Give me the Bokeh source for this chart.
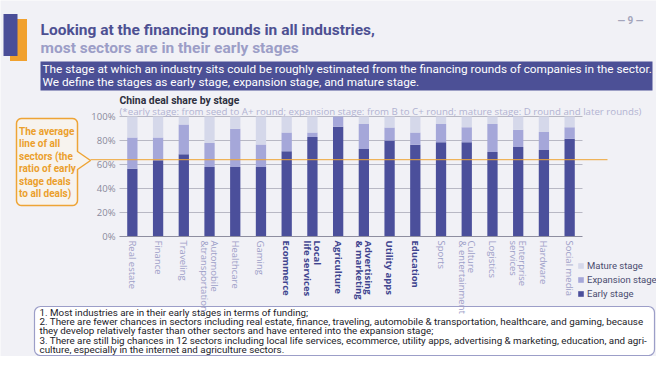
import math
from bokeh.plotting import figure
from bokeh.models import (Range1d, Label, LabelSet, ColumnDataSource, BoxAnnotation,
                          Legend, LegendItem)
from bokeh.embed import file_html
from bokeh.resources import INLINE
from bokeh.core.properties import value

# ---------------- data ----------------
sectors = ["Real estate", "Finance", "Traveling", "Automobile & transportation", "Healthcare",
           "Gaming", "Ecommerce", "Local life services", "Agriculture", "Advertising & marketing",
           "Utility apps", "Education", "Sports", "Culture & entertainment", "Logistics",
           "Enterprise services", "Hardware", "Social media"]
tick_labels = ["Real estate", "Finance", "Traveling", "Automobile\n&transportation", "Healthcare",
               "Gaming", "Ecommerce", "Local\nlife services", "Agriculture", "Advertising\n& marketing",
               "Utility apps", "Education", "Sports", "Culture\n& entertainment", "Logistics",
               "Enterprise\nservices", "Hardware", "Social media"]
highlighted = ["Ecommerce", "Local life services", "Agriculture", "Advertising & marketing",
               "Utility apps", "Education"]
early = [56.5, 63.5, 68.5, 58.0, 58.0, 58.0, 71.0, 83.0, 91.5, 73.0, 80.0, 76.5, 78.5, 78.5,
         70.5, 74.5, 72.0, 81.5]
expansion = [26.0, 19.0, 24.8, 20.0, 31.7, 18.7, 15.7, 3.7, 8.5, 20.7, 10.8, 10.2, 15.2, 12.5,
             23.2, 14.5, 15.0, 9.5]
mature = [17.5, 17.5, 6.7, 22.0, 10.3, 23.3, 13.3, 13.3, 0.0, 6.3, 9.2, 13.3, 6.3, 9.0, 6.3,
          11.0, 13.0, 9.0]
stage_names = ["Early stage", "Expansion stage", "Mature stage"]
average_early = 64
y_ticks = [0, 20, 40, 60, 80, 100]
y_tick_labels = ["0%", "20%", "40%", "60%", "80%", "100%"]

# ---------------- style ----------------
BG = "#f1f1f6"
NAVY = "#4b4f9b"
EXP = "#a5a7d9"
MAT = "#d5d8ea"
ORANGE = "#eea436"
ROB = "Roboto"
SANS = "Open Sans"

W, H = 656, 356
PL, PR, PT, PB = 0, W, 0, H               # canvas in picture pixels
FL, FR, FT, FB = 119, 582, 116, 236       # chart area in picture pixels
n = len(sectors)
sx = n / (FR - FL)                 # slots per pixel
sy = 100 / (FB - FT)               # percent per pixel

p = figure(width=W, height=H, output_backend="svg", toolbar_location=None,
           x_range=Range1d(PL, PR), y_range=Range1d(PB, PT),
           x_axis_location=None, y_axis_location=None,
           min_border=0, min_border_left=0, min_border_right=0,
           min_border_top=0, min_border_bottom=0)
p.extra_x_ranges = {"slot": Range1d((PL - FL) * sx, (PR - FL) * sx)}
p.extra_y_ranges = {"pct": Range1d((FB - PB) * sy, (FB - PT) * sy)}
p.background_fill_color = BG
p.border_fill_color = BG
p.outline_line_color = None
p.grid.visible = False

pos = [i + 0.5 for i in range(n)]

# grid lines
p.segment(x0=0, x1=n, y0=y_ticks[1:], y1=y_ticks[1:], x_range_name="slot",
          y_range_name="pct", line_color="#b8b8c4", line_width=1)

src = ColumnDataSource(dict(x=pos, sector=sectors, early=early, expansion=expansion, mature=mature))
rs = p.vbar_stack(["early", "expansion", "mature"], x="x", width=0.4,
                  color=[NAVY, EXP, MAT], line_color=None, source=src,
                  x_range_name="slot", y_range_name="pct")

# baseline
p.segment(x0=0, x1=n, y0=0, y1=0, x_range_name="slot", y_range_name="pct",
          line_color="#8e8ea0", line_width=1.2)

# average line
p.segment(x0=90, x1=607, y0=average_early, y1=average_early, y_range_name="pct",
          line_color=ORANGE, line_width=1)

# y tick labels
p.add_layout(LabelSet(x=115, y="y", text="t", y_range_name="pct",
                      source=ColumnDataSource(dict(y=y_ticks, t=y_tick_labels)),
                      text_align="right", text_baseline="middle", text_font=value(SANS),
                      text_font_size=value("9.5px"), text_color="#8a8a9c"))

# x tick labels (coloured individually)
lab_src = ColumnDataSource(dict(
    x=pos, text=tick_labels,
    color=["#40448f" if s in highlighted else "#9ea0c8" for s in sectors],
    style=["bold" if s in highlighted else "normal" for s in sectors]))
p.add_layout(LabelSet(x="x", y=240, x_range_name="slot", text="text", source=lab_src,
                      angle=-math.pi / 2, text_align="left", text_baseline="middle",
                      text_color="color", text_font_style="style", text_font=value(SANS),
                      text_font_size=value("9.5px"), text_line_height=0.72))

# legend
legend = Legend(items=[LegendItem(label=stage_names[2], renderers=[rs[2]]),
                       LegendItem(label=stage_names[1], renderers=[rs[1]]),
                       LegendItem(label=stage_names[0], renderers=[rs[0]])],
                location=(577 - PL, PB - 300.5), glyph_width=7, glyph_height=7, label_height=14,
                spacing=0, padding=0, margin=0, label_standoff=3,
                label_text_font=ROB, label_text_font_size="9.5px", label_text_color="#4a4c70",
                background_fill_alpha=0, border_line_color=None)
p.add_layout(legend)

# helper for rounded outlines in picture pixels
def rounded(l, t, r, b, rad, notch=None, k=5):
    xs, ys = [], []
    def arc(cx, cy, a0, a1):
        for i in range(k + 1):
            a = math.radians(a0 + (a1 - a0) * i / k)
            xs.append(cx + rad * math.cos(a)); ys.append(cy + rad * math.sin(a))
    arc(r - rad, t + rad, -90, 0)
    if notch:
        y0, tipx, tipy, y1 = notch
        xs.extend([r, tipx, r]); ys.extend([y0, tipy, y1])
    arc(r - rad, b - rad, 0, 90)
    arc(l + rad, b - rad, 90, 180)
    arc(l + rad, t + rad, 180, 270)
    return xs, ys

def box(l, t, r, b, **kw):
    p.add_layout(BoxAnnotation(left=l, right=r, top=t, bottom=b, level="underlay",
                               fill_alpha=1, line_alpha=1, **kw))

def text(x, y, s, size, color, font=ROB, style="normal", lh=1.2, align="left"):
    p.add_layout(Label(x=x, y=y, text=s, text_font=font, text_font_size=size,
                       text_color=color, text_font_style=style, text_align=align,
                       text_baseline="middle", text_line_height=lh))

# header
box(9.5, 18.5, 26.5, 60.5, fill_color="#f1a12e", line_color=None)
box(3, 13.5, 17, 55.5, fill_color="#4a4e98", line_color=None)
text(40, 29, "Looking at the financing rounds in all industries,", "15.5px", "#4d5092",
     style="bold")
text(40, 47, "most sectors are in their early stages", "15.5px", "#9c9ec7", style="bold")
text(617, 20, "\u2014   9   \u2014", "10px", "#a4a5bb", style="bold")
box(40, 61, 652, 90, fill_color="#4c5096", line_color=None)
text(42, 68.5, "The stage at which an industry sits could be roughly estimated from the financing rounds of companies in the sector.", "11.8px", "white")
text(42, 81.5, "We define the stages as early stage, expansion stage, and mature stage.", "11.8px", "white")

# chart titles
text(119, 99.5, "China deal share by stage", "10.4px", "#2e3040", style="bold")
text(119, 110.5, "(*early stage: from seed to A+ round; expansion stage: from B to C+ round; mature stage: D round and later rounds)",
     "9.7px", "#b2b3d2", font=SANS)

# callout
cx, cy = rounded(16, 118, 77, 205, 5, notch=(151, 90, 160, 169))
p.patch(cx, cy, fill_color="#f7f3ee", line_color=ORANGE, line_width=1.5)
text(18.5, 162, "The average\nline of all\nsectors (the\nratio of early\nstage deals\nto all deals)",
     "10px", "#eb9f2c", style="bold", lh=1.13)

# bottom notes box
box(34, 306, 654, 355, fill_color="white", line_color="#9c9ec8", line_width=1.2, border_radius=6)
text(39, 330.5,
     "1. Most industries are in their early stages in terms of funding;\n"
     "2. There are fewer chances in sectors including real estate, finance, traveling, automobile & transportation, healthcare, and gaming, because\n"
     "    they develop relatively faster than other sectors and have entered into the expansion stage;\n"
     "3. There are still big chances in 12 sectors including local life services, ecommerce, utility apps, advertising & marketing, education, and agri-\n"
     "    culture, especially in the internet and agriculture sectors.",
     "9.8px", "#222228", lh=0.82)

open("out.html", "w").write(file_html(p, INLINE))
